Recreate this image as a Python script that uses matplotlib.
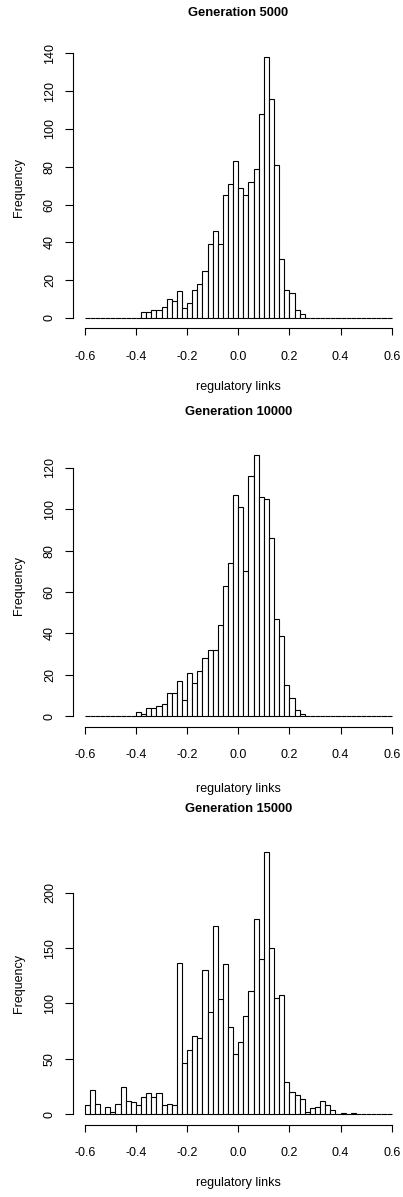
import numpy as np
import matplotlib
matplotlib.use("Agg")
import matplotlib.pyplot as plt

# ---------------- data ----------------
bin_start = -0.6
bin_width = 0.02
n_bins = 60

titles = ["Generation 5000", "Generation 10000", "Generation 15000"]

counts_5000 = [0, 0, 0, 0, 0, 0, 0, 0, 0, 0,
               0, 3, 3, 4, 4, 6, 10, 9, 14, 5,
               8, 15, 18, 25, 39, 46, 39, 65, 71, 83,
               69, 65, 72, 79, 108, 138, 116, 81, 31, 15,
               13, 4, 2, 0, 0, 0, 0, 0, 0, 0,
               0, 0, 0, 0, 0, 0, 0, 0, 0, 0]

counts_10000 = [0, 0, 0, 0, 0, 0, 0, 0, 0, 0,
                2, 1, 4, 4, 5, 6, 11, 11, 17, 8,
                21, 16, 22, 28, 32, 32, 44, 63, 74, 107,
                101, 70, 116, 126, 106, 105, 86, 47, 39, 15,
                9, 3, 1, 0, 0, 0, 0, 0, 0, 0,
                0, 0, 0, 0, 0, 0, 0, 0, 0, 0]

counts_15000 = [8, 22, 9, 0, 6, 2, 9, 24, 12, 11,
                8, 15, 19, 15, 19, 8, 9, 8, 137, 46,
                58, 71, 69, 130, 92, 170, 104, 136, 79, 54,
                65, 89, 111, 176, 140, 237, 150, 105, 108, 29,
                20, 17, 14, 2, 5, 6, 12, 8, 4, 0,
                1, 0, 1, 0, 0, 0, 0, 0, 0, 0]

all_counts = [counts_5000, counts_10000, counts_15000]

x_ticks = [-0.6, -0.4, -0.2, 0.0, 0.2, 0.4, 0.6]
x_ticklabels = ["-0.6", "-0.4", "-0.2", "0.0", "0.2", "0.4", "0.6"]
y_ticks_list = [[0, 20, 40, 60, 80, 100, 120, 140],
                [0, 20, 40, 60, 80, 100, 120],
                [0, 50, 100, 150, 200]]

xlabel = "regulatory links"
ylabel = "Frequency"

# ---------------- layout ----------------
W, H = 403, 1197
fig = plt.figure(figsize=(W / 100, H / 100), dpi=100)
plt.rcParams["font.family"] = ["Liberation Sans", "DejaVu Sans"]

# (plot top px, plot bottom px, title y px, xlabel y px)
panels = [(46.7, 328.3, 13.3, 387.3),
          (444.9, 726.7, 411.7, 789.3),
          (841.6, 1124.5, 809.3, 1182.7)]
left_px, right_px = 72.5, 404.0

edges = bin_start + bin_width * np.arange(n_bins + 1)
fs = 9

for k, (top, bot, ty, xly) in enumerate(panels):
    ax = fig.add_axes([left_px / W, 1 - bot / H, (right_px - left_px) / W, (bot - top) / H])
    counts = np.asarray(all_counts[k])
    ymax = counts.max()
    ax.bar(edges[:-1], counts, width=bin_width, align="edge",
           color="white", edgecolor="black", linewidth=0.8)
    ax.set_xlim(-0.6 - 0.048, 0.6 + 0.048)
    ax.set_ylim(-0.04 * ymax, 1.04 * ymax)

    for s in ["top", "right"]:
        ax.spines[s].set_visible(False)
    for s in ["left", "bottom"]:
        ax.spines[s].set_linewidth(0.8)
        ax.spines[s].set_color("black")
    yt = y_ticks_list[k]
    ax.spines["left"].set_bounds(yt[0], yt[-1])
    ax.spines["bottom"].set_bounds(x_ticks[0], x_ticks[-1])

    ax.set_xticks(x_ticks)
    ax.set_xticklabels(x_ticklabels, fontsize=fs)
    ax.set_yticks(yt)
    ax.set_yticklabels([str(v) for v in yt], fontsize=fs, rotation=90, va="center")
    ax.tick_params(axis="x", length=5, width=0.8, pad=11, colors="black")
    ax.tick_params(axis="y", length=6, width=0.8, pad=6, colors="black")

    cx = (left_px + right_px) / 2
    fig.text(cx / W, 1 - ty / H, titles[k], ha="center", va="center",
             fontsize=9.3, fontweight="bold")
    fig.text(cx / W, 1 - xly / H, xlabel, ha="center", va="center", fontsize=fs)
    fig.text(18.5 / W, 1 - ((top + bot) / 2) / H, ylabel, ha="center", va="center",
             rotation=90, fontsize=fs)

fig.savefig("out.png", dpi=100)
